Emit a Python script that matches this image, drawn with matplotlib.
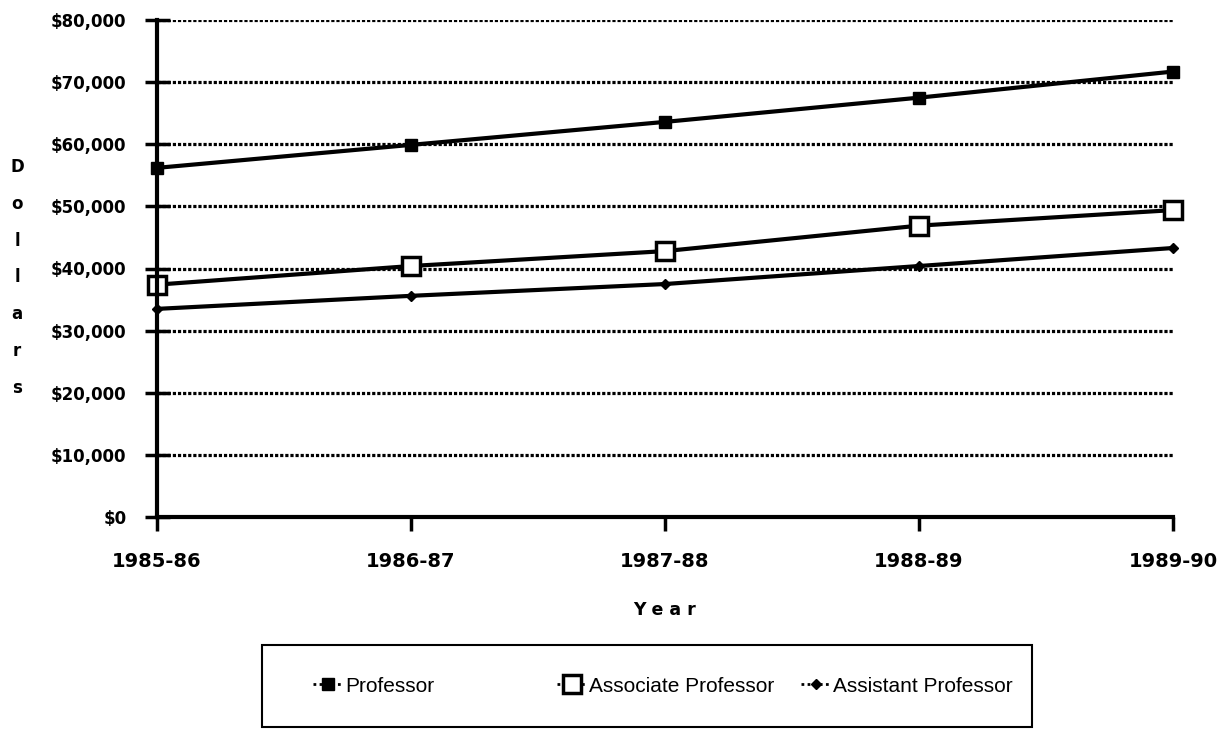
import matplotlib
matplotlib.use("Agg")
import matplotlib.pyplot as plt
from matplotlib.ticker import FuncFormatter
from matplotlib.lines import Line2D
from matplotlib.patches import Rectangle

years = ["1985-86", "1986-87", "1987-88", "1988-89", "1989-90"]
professor = [56200, 59900, 63600, 67500, 71700]
associate = [37400, 40400, 42800, 46900, 49400]
assistant = [33500, 35600, 37500, 40400, 43300]
yticks = [0, 10000, 20000, 30000, 40000, 50000, 60000, 70000, 80000]
series_names = ["Professor", "Associate Professor", "Assistant Professor"]

plt.rcParams['font.family'] = ['Liberation Sans', 'DejaVu Sans']
BOLD = ['DejaVu Sans']

W, H = 1227, 730
fig = plt.figure(figsize=(W / 100, H / 100), dpi=100)
ax = fig.add_axes([157 / W, 1 - 517 / H, (1173 - 157) / W, (517 - 20) / H])

x = list(range(len(years)))
for yv in yticks[1:]:
    ax.axhline(yv, color='black', lw=2.3, linestyle=(0, (1, 0.6)), zorder=1)

styles = [
    dict(marker='s', ms=8.5, mfc='black', mec='black', mew=1),
    dict(marker='s', ms=12.5, mfc='white', mec='black', mew=2.5),
    dict(marker='D', ms=5.5, mfc='black', mec='black', mew=1),
]
for vals, name, st in zip([professor, associate, assistant], series_names, styles):
    ln, = ax.plot(x, vals, color='black', lw=3, label=name, zorder=3, **st)
    ln.set_clip_on(False)

ax.set_xlim(0, len(years) - 1)
ax.set_ylim(0, 80000)
ax.set_xticks(x)
ax.set_xticklabels(years, fontsize=14, fontweight='bold', family=BOLD)
ax.set_yticks(yticks)
ax.yaxis.set_major_formatter(FuncFormatter(lambda v, p: "${:,.0f}".format(v)))
for lab in ax.get_yticklabels():
    lab.set_fontsize(12)
    lab.set_fontweight('bold')
    lab.set_family(BOLD)
ax.tick_params(axis='y', direction='inout', length=18, width=2.5, pad=13)
ax.tick_params(axis='x', direction='out', length=10, width=2.5, pad=15)
ax.spines['top'].set_visible(False)
ax.spines['right'].set_visible(False)
ax.spines['left'].set_linewidth(3)
ax.spines['bottom'].set_linewidth(3)
ax.spines['left'].set_zorder(4)
ax.spines['bottom'].set_zorder(4)

ax.set_xlabel("Y e a r", fontsize=12.5, fontweight='bold', family=BOLD, labelpad=22)

for i, ch in enumerate("Dollars"):
    fig.text(17 / W, 1 - (167 + i * 36.8) / H, ch, ha='center', va='center',
             fontsize=12, fontweight='bold', family=BOLD)

# legend box
fig.patches.append(Rectangle((262 / W, 1 - 727 / H), (1032 - 262) / W, (727 - 645) / H,
                             transform=fig.transFigure, fill=False, edgecolor='black',
                             lw=1.5))
leg_x = [313, 557, 801]
for name, st, lx in zip(series_names, styles, leg_x):
    h = Line2D([], [], color='black', lw=2, linestyle=(0, (1, 1.2)), **st)
    fig.legend([h], [name], loc='center left', bbox_to_anchor=(lx / W, 1 - 686 / H),
               frameon=False, fontsize=15, handlelength=1.4, handletextpad=0.15,
               borderpad=0, borderaxespad=0)

fig.savefig("out.png", dpi=100)
